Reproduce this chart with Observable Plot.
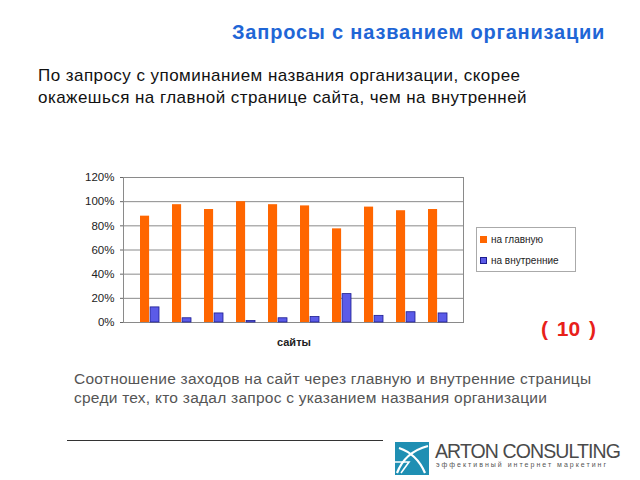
<!DOCTYPE html>
<html>
<head>
<meta charset="utf-8">
<script src="https://cdn.jsdelivr.net/npm/d3@7"></script>
<script src="https://cdn.jsdelivr.net/npm/@observablehq/plot@0.6"></script>
<style>
  html, body { margin: 0; padding: 0; background: #fff; }
  body { width: 640px; height: 480px; position: relative; overflow: hidden; font-family: "Liberation Sans", Arial, sans-serif; }
  .abs { position: absolute; white-space: nowrap; }
  #title { left: 232px; top: 21px; font-size: 20px; letter-spacing: 0.8px; font-weight: bold; color: #1f66d6; }
  #subtitle { left: 38px; top: 65px; font-size: 17px; letter-spacing: 0.45px; line-height: 22px; color: #111; }
  #chart { left: 70px; top: 165px; }
  #xlabel { left: 277px; top: 336px; font-size: 11px; font-weight: bold; color: #222; }
  #legend { left: 476px; top: 227px; width: 98px; height: 43px; border: 1px solid #aaa; font-size: 10px; color: #222; }
  .li { position: absolute; left: 3px; }
  .sw { display: inline-block; width: 7px; height: 7px; margin-right: 4px; }
  #num { left: 541px; top: 317px; font-size: 21px; word-spacing: 3px; font-weight: bold; color: #e8201a; }
  #caption { left: 74px; top: 369px; font-size: 15.5px; letter-spacing: 0.25px; line-height: 19px; color: #555; }
  #rule { left: 67px; top: 440px; width: 316px; height: 0; border-top: 1.5px solid #333; }
  #logo { left: 395px; top: 442px; }
  #logoText { left: 435px; top: 440px; font-size: 19.5px; color: #4a4a4a; letter-spacing: -0.9px; line-height: 22px; }
  #logoSub { left: 436px; top: 461px; font-size: 7px; line-height: 8px; color: #555; letter-spacing: 2px; }
</style>
</head>
<body>
<div class="abs" id="title">Запросы с названием организации</div>
<div class="abs" id="subtitle">По запросу с упоминанием названия организации, скорее<br>окажешься на главной странице сайта, чем на внутренней</div>
<div class="abs" id="chart"></div>
<div class="abs" id="xlabel">сайты</div>
<div class="abs" id="legend"></div>
<div class="abs" id="num">( 10 )</div>
<div class="abs" id="caption">Соотношение заходов на сайт через главную и внутренние страницы<br>среди тех, кто задал запрос с указанием названия организации</div>
<div class="abs" id="rule"></div>
<svg class="abs" id="logo" width="34" height="33" viewBox="0 0 34 33">
  <rect x="0" y="0" width="34" height="33" fill="#1f8fb3"/>
  <path d="M2 31 Q 10 10 33 4" stroke="#fff" stroke-width="2.2" fill="none"/>
  <path d="M4 6 Q 22 12 30 31" stroke="#fff" stroke-width="2.2" fill="none"/>
  <path d="M0 20 L 14 20 L 6 31" stroke="#fff" stroke-width="1.6" fill="none"/>
</svg>
<div class="abs" id="logoText">ARTON CONSULTING</div>
<div class="abs" id="logoSub">эффективный интернет маркетинг</div>
<script>
const sites = ["1","2","3","4","5","6","7","8","9","10"];
const mainValues = [88, 97.5, 93.5, 100, 97.5, 96.5, 77.5, 95.5, 92.5, 93.5];
const innerValues = [12.5, 3.5, 7.5, 1.2, 3.5, 4.5, 23.5, 5.5, 8.5, 7.5];
const seriesNames = ["на главную", "на внутренние"];
const seriesColors = ["#ff6600", "#5b5be8"];
const yTicks = [0, 20, 40, 60, 80, 100, 120];

const mainData = sites.map((s, i) => ({site: s, value: mainValues[i]}));
const innerData = sites.map((s, i) => ({site: s, value: innerValues[i]}));

const chart = Plot.plot({
  width: 395,
  height: 167,
  marginLeft: 53,
  marginRight: 2,
  marginTop: 12,
  marginBottom: 10,
  style: {fontFamily: "Liberation Sans, Arial, sans-serif", fontSize: "11px", color: "#222", background: "transparent", overflow: "visible"},
  x: {domain: sites, padding: 0.41, align: 0.5, axis: null},
  y: {domain: [0, 120], ticks: yTicks, tickFormat: d => d + "%", label: null},
  marks: [
    Plot.gridY(yTicks, {stroke: "#8a8a8a", strokeOpacity: 1, strokeWidth: 1}),
    Plot.frame({stroke: "#8a8a8a"}),
    Plot.barY(mainData, {x: "site", y: "value", fill: seriesColors[0], insetRight: 9.9}),
    Plot.barY(innerData, {x: "site", y: "value", fill: seriesColors[1], stroke: "#1c1c90", strokeWidth: 0.8, insetLeft: 10.1}),
    Plot.axisY({ticks: yTicks, tickFormat: d => d + "%", tickSize: 3, tickPadding: 6, stroke: "#666", fontSize: 11.5})
  ]
});
document.getElementById("chart").appendChild(chart);

const legend = document.getElementById("legend");
seriesNames.forEach((n, i) => {
  const d = document.createElement("div");
  d.className = "li";
  d.style.top = (i === 0 ? 6 : 27) + "px";
  d.innerHTML = `<span class="sw" style="background:${seriesColors[i]};${i===1?'outline:1px solid #1c1c90;outline-offset:-1px;':''}"></span>${n}`;
  legend.appendChild(d);
});
</script>
</body>
</html>
